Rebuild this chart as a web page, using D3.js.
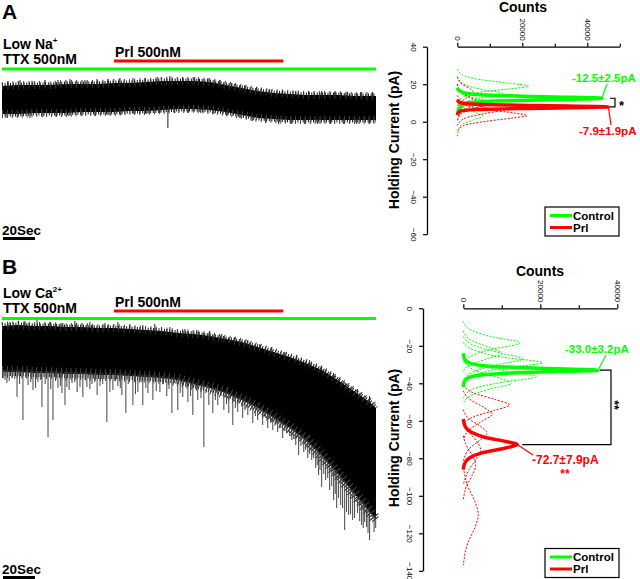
<!DOCTYPE html>
<html><head><meta charset="utf-8">
<script src="https://cdn.jsdelivr.net/npm/d3@7"></script>
<style>body{margin:0;background:#fff}svg{display:block;font-family:Arial,"Liberation Sans",Helvetica,sans-serif}</style>
</head><body><svg id="c" width="640" height="579"></svg>
<script>
// ---------- DATA ----------
// Trace sampling times (s)
const traceTimes = [0,10,20,30,40,50,60,70,80,90,100,110,120,130,140,150,160,170,180,190,200,210,220,230,234];
// Panel A trace envelope (pA, relative)
const traceATop =    [-11,-10,-10,-10,-9,-9,-9,-8,-8,-7,-6,-6,-6,-7,-10,-13,-16,-18,-19,-20,-20,-20,-21,-21,-21];
const traceABottom = [-39,-39,-38,-38,-38,-37,-37,-37,-36,-36,-35,-34,-34,-35,-37,-40,-43,-44,-45,-45,-45,-45,-45,-45,-45];
const traceASpikesUp = [[3.8,-6],[11.3,-5],[18.8,-6],[26.9,-5],[35,-5],[42.5,-4],[51.9,-5],[59.4,-4],[66.3,-4],[73.8,-3],[81.9,-3],[89.4,-3],[97.5,-2],[105,-1],[113.1,-2],[120.6,-2],[128.8,-3],[136.3,-5],[143.8,-8],[151.9,-10],[159.4,-12],[167.5,-14],[175.6,-15],[183.8,-16],[191.9,-16],[200,-16],[208.1,-17],[216.3,-17],[224.4,-17],[231.9,-17]];
const traceASpikesDown = [[2.5,-43],[10,-42],[17.5,-43],[25.6,-42],[33.8,-42],[41.9,-41],[50,-41],[58.1,-41],[66.3,-40],[74.4,-40],[82.5,-39],[90.6,-39],[98.8,-38],[103.8,-53],[108.1,-38],[116.3,-38],[124.4,-38],[132.5,-39],[140.6,-41],[148.8,-43],[156.9,-46],[165,-48],[173.1,-49],[181.3,-49],[189.4,-49],[197.5,-49],[205.6,-49],[213.8,-49],[221.9,-49],[230,-49]];
// Panel B trace envelope (pA, relative)
const traceBTop =    [-8,-7,-8,-8,-9,-9,-10,-10,-11,-12,-13,-15,-16,-18,-21,-24,-29,-34,-39,-45,-52,-62,-73,-84,-90];
const traceBBottom = [-54,-54,-55,-55,-56,-56,-57,-57,-58,-59,-60,-62,-66,-70,-75,-82,-90,-100,-110,-122,-138,-156,-175,-194,-202];
const traceBSpikesUp = [[5,-4],[14.4,-3],[21.9,-2],[30,-4],[38.1,-5],[45.6,-3],[55,-4],[64.4,-5],[72.5,-4],[80,-6],[88.1,-7],[95.6,-6],[105,-9],[114.4,-11],[121.9,-12],[130,-13],[137.5,-16],[145.6,-19],[153.8,-22],[161.3,-26],[168.8,-29],[176.9,-34],[184.4,-37],[192.5,-42],[200,-48],[207.5,-55],[215,-65],[222.5,-72],[230,-78]];
const traceBSpikesDown = [[1.9,-62],[3.1,-65],[6.3,-60],[9.4,-79],[13.1,-102],[16.3,-67],[19.4,-72],[22.5,-64],[25,-89],[28.8,-119],[31.9,-102],[35,-70],[37.5,-75],[39.4,-87],[40.6,-69],[43.8,-65],[48.8,-69],[50.6,-79],[53.1,-69],[56.3,-66],[61.3,-68],[65.6,-104],[69.4,-72],[72.5,-68],[75,-77],[77.5,-95],[81.9,-87],[85,-74],[88.1,-87],[91.3,-75],[94.4,-82],[98.8,-74],[103.1,-78],[106.3,-95],[110,-92],[113.1,-79],[116.3,-84],[119.4,-97],[122.5,-82],[126.3,-129],[129.4,-87],[131.9,-95],[135,-87],[138.8,-92],[141.9,-95],[144.4,-107],[147.5,-94],[150.6,-100],[153.8,-97],[156.9,-105],[160,-102],[163.1,-107],[166.3,-110],[169.4,-112],[172.5,-114],[175.6,-120],[178.1,-115],[181.3,-122],[183.8,-127],[185.6,-137],[188.8,-134],[191.3,-140],[193.8,-142],[196.3,-150],[198.1,-157],[200,-169],[202.5,-162],[205,-172],[207.5,-182],[209.4,-190],[211.9,-187],[214.4,-212],[216.9,-197],[219.4,-202],[222.5,-195],[225,-207],[226.9,-204],[228.1,-209],[230,-222],[231.9,-199],[233.8,-210],
  [0.8,-60],[4.5,-63],[8,-61],[11,-66],[15,-60],[18,-64],[21,-70],[24,-62],[27,-66],[30.5,-71],[33.5,-63],[36.5,-68],[42,-72],[45.5,-64],[47,-74],[52,-62],[55,-71],[58,-64],[59.5,-77],[63,-66],[67.5,-74],[71,-63],[74,-70],[79,-66],[83.5,-76],[87,-64],[90,-70],[93,-62],[96.5,-73],[100.5,-66],[104.5,-71],[108,-65],[111.5,-75],[115,-69],[118,-78],[121,-71],[124.5,-80],[128,-74],[133.5,-82],[137,-78],[140.5,-86],[143,-80],[146,-90],[149,-84],[152,-92],[155.5,-88],[158.5,-98],[161.5,-95],[165,-100],[168,-104],[171,-106],[174,-110],[177,-113],[180,-118],[182.5,-121],[187,-128],[190,-132],[192.5,-136],[195,-140],[197.2,-147],[199,-152],[201.3,-156],[203.8,-160],[206.3,-168],[208.5,-176],[210.6,-180],[213.1,-190],[215.6,-194],[218.1,-196],[220.6,-200],[223.8,-203],[226,-210],[229,-215],[232.8,-214]];
// Application bars (s)
const bathPeriod = [0, 234];
const prlPeriod = [70, 176];
const scaleBarSec = 20;

// Histograms: [holding current pA, counts]
const histAControl = [[18,0],[16.5,600],[15,3000],[14,12000],[13.2,30000],[12.5,44500],[11.8,30000],[11,12000],[10,3000],[7,600],[3.5,0]];
const histAPrl = [[11.6,0],[10.2,800],[9.3,6000],[8.6,25000],[7.9,46500],[7.2,25000],[6.5,6000],[5.6,800],[3.5,0]];
const histACells = [
  [[28,0],[25,1500],[22.5,7000],[20.5,16000],[19,22000],[17.5,16000],[15.5,6000],[12,1000],[8,0]],
  [[24,0],[20,2000],[17,8000],[15,14000],[13,8000],[10,2000],[5,0]],
  [[20,0],[15,1500],[12,7000],[10.5,11000],[9,7000],[6,1500],[1,0]],
  [[12,0],[8,1500],[5,5500],[3,8000],[1,5000],[-2,1000],[-8,0]]
];
const histAPrlCells = [
  [[12,0],[9,2000],[6.5,9000],[4.5,18000],[3.2,21500],[2,17000],[0,8000],[-2,2000],[-5,0]],
  [[20,0],[15,1500],[11.5,6000],[9.5,9500],[7.5,6000],[4,1000],[0,0]],
  [[24,0],[20,1500],[17.5,4000],[15.5,5000],[13,3000],[9,500],[5,0]],
  [[14,0],[10,2500],[7.5,9000],[6,13000],[4.5,9000],[2,2500],[-2,0]]
];
const histBControl = [[-24,0],[-27,300],[-29.5,2000],[-31,8000],[-32,20000],[-33,35000],[-34,20000],[-35,8000],[-36.5,2000],[-39,300],[-42,0]];
const histBPrl = [[-59,0],[-63,500],[-66,2000],[-69,6000],[-71,11000],[-72.7,14000],[-74.5,11000],[-77,5000],[-80,1500],[-83,300],[-86,0]];
const histBCells = [
  [[-7,0],[-11,1500],[-15,7000],[-18.5,14800],[-22,7000],[-26,1500],[-30,0]],
  [[-18,0],[-22,2500],[-26,10000],[-29,20500],[-32,10000],[-36,2500],[-40,0]],
  [[-26,0],[-30,3000],[-33.5,11000],[-36.5,19000],[-39.5,10000],[-43,2500],[-48,0]],
  [[-15,0],[-20,3000],[-24,10000],[-27,15500],[-30,9000],[-34,2500],[-38,0]],
  [[-28,0],[-33,3000],[-37,9000],[-40,12500],[-43,7000],[-47,1500],[-51,0]],
  [[-12,0],[-17,2000],[-21,7000],[-24,10000],[-27,6000],[-31,1000],[-34,0]]
];
const histBPrlCells = [
  [[-41,0],[-45,2500],[-48.5,8000],[-51.5,12000],[-54.5,8000],[-58,2500],[-62,0]],
  [[-44,0],[-49,2000],[-53,5500],[-56.5,7500],[-60,5000],[-65,1500],[-70,0]],
  [[-54,0],[-59,1500],[-63,4500],[-66.5,6200],[-70,4500],[-75,1500],[-82,0]],
  [[-60,0],[-66,1500],[-71,3500],[-75.5,4500],[-80,3500],[-86,1500],[-94,0]],
  [[-85,0],[-95,1200],[-103,3000],[-110,3900],[-117,3000],[-125,1200],[-137,0]],
  [[-68,0],[-74,1000],[-79,2500],[-84,3200],[-89,2300],[-95,800],[-102,0]]
];
const peakA = {control:[44500,12.5], prl:[46500,7.9]};
const peakB = {control:[35000,-33.0], prl:[14000,-72.7]};
const labelsA = {control:"-12.5±2.5pA", prl:"-7.9±1.9pA"};
const labelsB = {control:"-33.0±3.2pA", prl:"-72.7±7.9pA"};
const yTicksA = [40,20,0,-20,-40,-60];
const yTicksB = [0,-20,-40,-60,-80,-100,-120,-140];
const countTicksA = [0,10000,20000,30000,40000,50000];
const countTicksB = [0,10000,20000,30000,40000];
const countLabels = [0,20000,40000];
const legendItems = ["Control","Prl"];

// ---------- DRAW ----------
const GREEN = "#00ff00", RED = "#ff0000";
const svg = d3.select("#c");
const xT = d3.scaleLinear().domain([0,234]).range([2,376]);

function drawTrace(yS, top, bottom, up, down, spikeColor, bottomFringe) {
  const g = svg.append("g");
  const area = d3.area().x((d,i)=>xT(traceTimes[i])).y0((d,i)=>yS(bottom[i])).y1((d,i)=>yS(top[i]));
  const edge = arr => d3.line().x((d,i)=>xT(traceTimes[i])).y(d=>yS(d))(arr);
  g.append("path").datum(top).attr("d", area).attr("fill","#000");
  // noisy fringe along the envelope edges (stroke texture)
  g.append("path").attr("d",edge(top)).attr("fill","none").attr("stroke","#111").attr("stroke-width",5).attr("stroke-dasharray","1,1.7");
  g.append("path").attr("d",edge(top)).attr("fill","none").attr("stroke","#333").attr("stroke-width",8).attr("stroke-dasharray","1,4.3");
  g.append("path").attr("d",edge(bottom)).attr("fill","none").attr("stroke","#111").attr("stroke-width",bottomFringe[0]).attr("stroke-dasharray","1,1.6");
  g.append("path").attr("d",edge(bottom)).attr("fill","none").attr("stroke","#444").attr("stroke-width",bottomFringe[1]).attr("stroke-dasharray","1,3.9");
  const topAt = d3.scaleLinear().domain(traceTimes).range(top);
  const botAt = d3.scaleLinear().domain(traceTimes).range(bottom);
  g.selectAll(".su").data(up).join("line")
    .attr("x1",d=>xT(d[0])).attr("x2",d=>xT(d[0]))
    .attr("y1",d=>yS(topAt(d[0]))+2).attr("y2",d=>yS(d[1]))
    .attr("stroke","#222").attr("stroke-width",1);
  g.selectAll(".sd").data(down).join("line")
    .attr("x1",d=>xT(d[0])).attr("x2",d=>xT(d[0]))
    .attr("y1",d=>yS(botAt(d[0]))-2).attr("y2",d=>yS(d[1]))
    .attr("stroke",spikeColor).attr("stroke-width",1);
}
const yTA = d3.scaleLinear().domain([0,-50]).range([75,125]);
const yTB = d3.scaleLinear().domain([0,-250]).range([318,568]);
drawTrace(yTA, traceATop, traceABottom, traceASpikesUp, traceASpikesDown, "#222", [5,8]);
drawTrace(yTB, traceBTop, traceBBottom, traceBSpikesUp, traceBSpikesDown, "#444", [8,12]);

function txt(x,y,s,size,opts={}) {
  const t = svg.append("text").attr("x",x).attr("y",y).attr("font-size",size)
    .attr("font-weight", opts.weight||"bold").attr("fill", opts.fill||"#000").text(s);
  if (opts.anchor) t.attr("text-anchor",opts.anchor);
  return t;
}
function leftPanel(letterY, line1, sup, y1, y2, prlY, redY, greenY, scaleY) {
  txt(2, letterY, line1[0], 21);
  const t = txt(3, y1, line1[1], 14);
  t.append("tspan").attr("font-size",8).attr("dy",-6).text(sup);
  txt(3, y2, "TTX 500nM", 14);
  txt(xT(prlPeriod[0])+1, prlY, "Prl 500nM", 14);
  svg.append("line").attr("x1",xT(prlPeriod[0])).attr("x2",xT(prlPeriod[1])).attr("y1",redY).attr("y2",redY).attr("stroke",RED).attr("stroke-width",3);
  svg.append("line").attr("x1",xT(bathPeriod[0])).attr("x2",xT(bathPeriod[1])).attr("y1",greenY).attr("y2",greenY).attr("stroke",GREEN).attr("stroke-width",3);
  txt(2, scaleY, "20Sec", 13.5);
  svg.append("line").attr("x1",xT(0)+1).attr("x2",xT(scaleBarSec)+1).attr("y1",scaleY+3.5).attr("y2",scaleY+3.5).attr("stroke","#000").attr("stroke-width",3);
}
leftPanel(19, ["A","Low Na"], "+", 49, 64, 57, 61, 69, 235);
leftPanel(274, ["B","Low Ca"], "2+", 298, 313, 307, 311, 318.5, 574);

function histPanel(cfg) {
  const {xS, yS, axisX, yTicks, cTicks, control, prl, cells, prlCells, countsY, titleX, ytitleY} = cfg;
  const g = svg.append("g");
  const ya = g.append("g").attr("transform",`translate(${axisX},0)`)
    .call(d3.axisLeft(yS).tickValues(yTicks).tickSize(4).tickSizeOuter(0).tickFormat(d3.format("d")));
  ya.select(".domain").attr("stroke-width",1.3);
  ya.selectAll(".tick line").attr("stroke-width",1.2);
  ya.selectAll(".tick text").attr("x",0).attr("y",0).attr("dy","0.35em").attr("text-anchor","middle")
    .attr("transform","translate(-13,0) rotate(90)").attr("font-size",8).attr("font-family","Arial,'Liberation Sans',sans-serif");
  const y0 = yS.range()[0];
  const xa = g.append("g").attr("transform",`translate(0,${y0})`)
    .call(d3.axisTop(xS).tickValues(cTicks).tickSize(4).tickSizeOuter(0)
      .tickFormat(d=>countLabels.includes(d)?d3.format("d")(d):""));
  xa.select(".domain").attr("stroke-width",1.3);
  xa.selectAll(".tick line").attr("stroke-width",1.2).attr("y2",d=>countLabels.includes(d)?-4:-3);
  xa.selectAll(".tick text").attr("x",0).attr("y",0).attr("dy","0.35em").attr("text-anchor","end")
    .attr("transform","translate(0,-6) rotate(90)").attr("font-size",8).attr("font-family","Arial,'Liberation Sans',sans-serif");
  txt(titleX, countsY, "Counts", 14, {anchor:"middle"});
  svg.append("text").attr("transform",`translate(399,${ytitleY}) rotate(-90)`).attr("text-anchor","middle")
    .attr("font-size",14).attr("font-weight","bold").text("Holding Current (pA)");
  const line = d3.line().x(d=>xS(d[1])).y(d=>yS(d[0])).curve(d3.curveMonotoneY);
  const cellG = g.append("g");
  cells.forEach(c=>cellG.append("path").attr("d",line(c)).attr("fill","none").attr("stroke",GREEN).attr("stroke-width",1).attr("stroke-dasharray","2,1.5"));
  prlCells.forEach(c=>cellG.append("path").attr("d",line(c)).attr("fill","none").attr("stroke",RED).attr("stroke-width",1).attr("stroke-dasharray","2,1.5"));
  g.append("path").attr("d",line(control)).attr("fill","none").attr("stroke",GREEN).attr("stroke-width",3.5);
  g.append("path").attr("d",line(prl)).attr("fill","none").attr("stroke",RED).attr("stroke-width",3.5);
}
const xHA = d3.scaleLinear().domain([0,50000]).range([457.3,619.8]);
const yHA = d3.scaleLinear().domain([40,-60]).range([46.7,234.2]);
const xHB = d3.scaleLinear().domain([0,40000]).range([463.3,617.3]);
const yHB = d3.scaleLinear().domain([0,-140]).range([308.3,570.8]);
histPanel({xS:xHA,yS:yHA,axisX:427,yTicks:yTicksA,cTicks:countTicksA,control:histAControl,prl:histAPrl,cells:histACells,prlCells:histAPrlCells,countsY:12,titleX:523,ytitleY:140});
histPanel({xS:xHB,yS:yHB,axisX:423,yTicks:yTicksB,cTicks:countTicksB,control:histBControl,prl:histBPrl,cells:histBCells,prlCells:histBPrlCells,countsY:276,titleX:540,ytitleY:438});

function seg(x1,y1,x2,y2,c,w){svg.append("line").attr("x1",x1).attr("y1",y1).attr("x2",x2).attr("y2",y2).attr("stroke",c).attr("stroke-width",w);}
{
  const gx = xHA(peakA.control[0]), gy = yHA(peakA.control[1]);
  const rx = xHA(peakA.prl[0]), ry = yHA(peakA.prl[1]);
  seg(gx,gy,607,84,GREEN,1.2);
  seg(rx,ry,611,125,RED,1.2);
  txt(572,82,labelsA.control,11.5,{fill:GREEN});
  txt(579,135,labelsA.prl,11.5,{fill:RED});
  svg.append("path").attr("d",`M610,${gy}H615V${ry}H610`).attr("fill","none").attr("stroke","#000").attr("stroke-width",1.2);
  txt(619,110,"*",13);
}
{
  const gx = xHB(peakB.control[0]), gy = yHB(peakB.control[1]);
  const rx = xHB(peakB.prl[0]), ry = yHB(peakB.prl[1]);
  seg(gx,gy,606,355,GREEN,1.2);
  seg(rx,ry,533,455,RED,1.2);
  txt(565,353,labelsB.control,11.5,{fill:GREEN});
  txt(532,464,labelsB.prl,12,{fill:RED});
  txt(565,478,"**",12,{fill:RED,anchor:"middle"});
  svg.append("path").attr("d",`M${gx+2},${gy}H611V${ry}H${rx+5}`).attr("fill","none").attr("stroke","#000").attr("stroke-width",1.2);
  svg.append("text").attr("transform","translate(610,405) rotate(90)").attr("text-anchor","middle").attr("font-size",12).attr("font-weight","bold").text("**");
}
function legend(x,y) {
  const g = svg.append("g").attr("transform",`translate(${x},${y})`);
  g.append("rect").attr("width",74).attr("height",29).attr("fill","#fff").attr("stroke","#000").attr("stroke-width",1.2);
  legendItems.forEach((s,i)=>{
    const yy = 8.5+i*12;
    g.append("line").attr("x1",5).attr("x2",27).attr("y1",yy).attr("y2",yy).attr("stroke",i?RED:GREEN).attr("stroke-width",3);
    g.append("text").attr("x",28).attr("y",yy+4).attr("font-size",11.5).attr("font-weight","bold").text(s);
  });
}
legend(545,207);
legend(545,548.5);
</script></body></html>
